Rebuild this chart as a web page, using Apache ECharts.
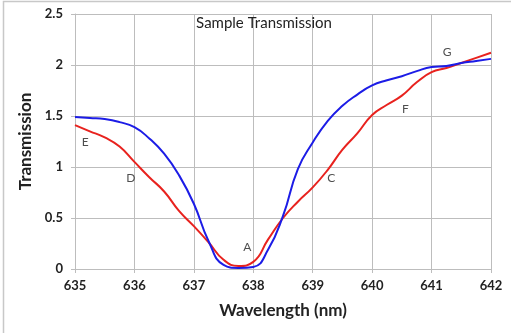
<!DOCTYPE html>
<html><head><meta charset="utf-8">
<script src="https://cdn.jsdelivr.net/npm/echarts@6/dist/echarts.min.js"></script>
<style>html,body{margin:0;padding:0;background:#fff}#c{width:511px;height:333px}</style>
</head><body><div id="c"></div>
<script>
const wavelength = [635, 635.25, 635.5, 635.75, 636, 636.25, 636.5, 636.75, 637, 637.25, 637.5, 637.75, 638, 638.25, 638.5, 638.75, 639, 639.25, 639.5, 639.75, 640, 640.25, 640.5, 640.75, 641, 641.25, 641.5, 641.75, 642];
const blueY = [1.49, 1.48, 1.47, 1.44, 1.39, 1.28, 1.13, 0.92, 0.64, 0.27, 0.04, 0.01, 0.02, 0.19, 0.52, 0.98, 1.24, 1.45, 1.6, 1.71, 1.8, 1.85, 1.89, 1.94, 1.98, 1.99, 2.02, 2.04, 2.06];
const redY = [1.41, 1.35, 1.29, 1.2, 1.05, 0.9, 0.76, 0.57, 0.42, 0.26, 0.09, 0.03, 0.07, 0.29, 0.5, 0.66, 0.8, 0.97, 1.17, 1.33, 1.51, 1.61, 1.7, 1.83, 1.93, 1.97, 2.02, 2.07, 2.12];
const annText = ['A', 'C', 'D', 'E', 'F', 'G'];
const annX = [637.9, 639.31, 635.94, 635.17, 640.56, 641.26];
const annY = [0.215, 0.89, 0.89, 1.245, 1.57, 2.13];
const xTicks = [635, 636, 637, 638, 639, 640, 641, 642];

const FONT = 'Lato, "Open Sans", sans-serif';
const grayLine = {lineStyle: {color: '#bdbdbd', width: 1}};
const chart = echarts.init(document.getElementById('c'));
chart.setOption({
  animation: false,
  textStyle: {fontFamily: FONT},
  title: {text: 'Sample Transmission', left: 259, top: 11, textAlign: 'center',
    textStyle: {fontFamily: FONT, fontSize: 15, fontWeight: 'normal', color: '#222'}},
  graphic: [{type: 'polyline', shape: {points: [[3.5, 333], [3.5, 1.5], [511, 1.5]]},
    style: {stroke: '#c8c8c8', lineWidth: 1.5, fill: null}, silent: true}],
  grid: {left: 75, right: 20, top: 14, bottom: 64},
  xAxis: {type: 'value', min: 635, max: 642, interval: 1,
    name: 'Wavelength (nm)', nameLocation: 'middle', nameGap: 33,
    nameTextStyle: {fontFamily: FONT, fontSize: 17, fontWeight: 'bold', color: '#222'},
    axisLine: {show: true, ...grayLine}, axisTick: {show: true, length: 4, ...grayLine},
    splitLine: {show: true, ...grayLine},
    axisLabel: {fontFamily: FONT, fontSize: 13, fontWeight: 'bold', color: '#222', margin: 10,
      formatter: v => xTicks.includes(v) ? String(v) : ''}},
  yAxis: {type: 'value', min: 0, max: 2.5, interval: 0.5,
    name: 'Transmission', nameLocation: 'middle', nameGap: 37, nameRotate: 90,
    nameTextStyle: {fontFamily: FONT, fontSize: 17, fontWeight: 'bold', color: '#222'},
    axisLine: {show: true, ...grayLine}, axisTick: {show: true, length: 4, ...grayLine},
    splitLine: {show: true, ...grayLine},
    axisLabel: {fontFamily: FONT, fontSize: 13, fontWeight: 'bold', color: '#222', margin: 12}},
  series: [
    {type: 'line', data: wavelength.map((x, i) => [x, redY[i]]), smooth: 0.5, showSymbol: false,
      lineStyle: {color: '#e8221e', width: 2}, z: 3},
    {type: 'line', data: wavelength.map((x, i) => [x, blueY[i]]), smooth: 0.5, showSymbol: false,
      lineStyle: {color: '#1c1ce6', width: 2}, z: 4},
    {type: 'scatter', symbolSize: 0, data: annX.map((x, i) => [x, annY[i], annText[i]]),
      label: {show: true, position: 'inside', formatter: p => p.data[2],
        fontFamily: FONT, fontSize: 12, color: '#222'}, z: 5}
  ]
});
</script></body></html>
